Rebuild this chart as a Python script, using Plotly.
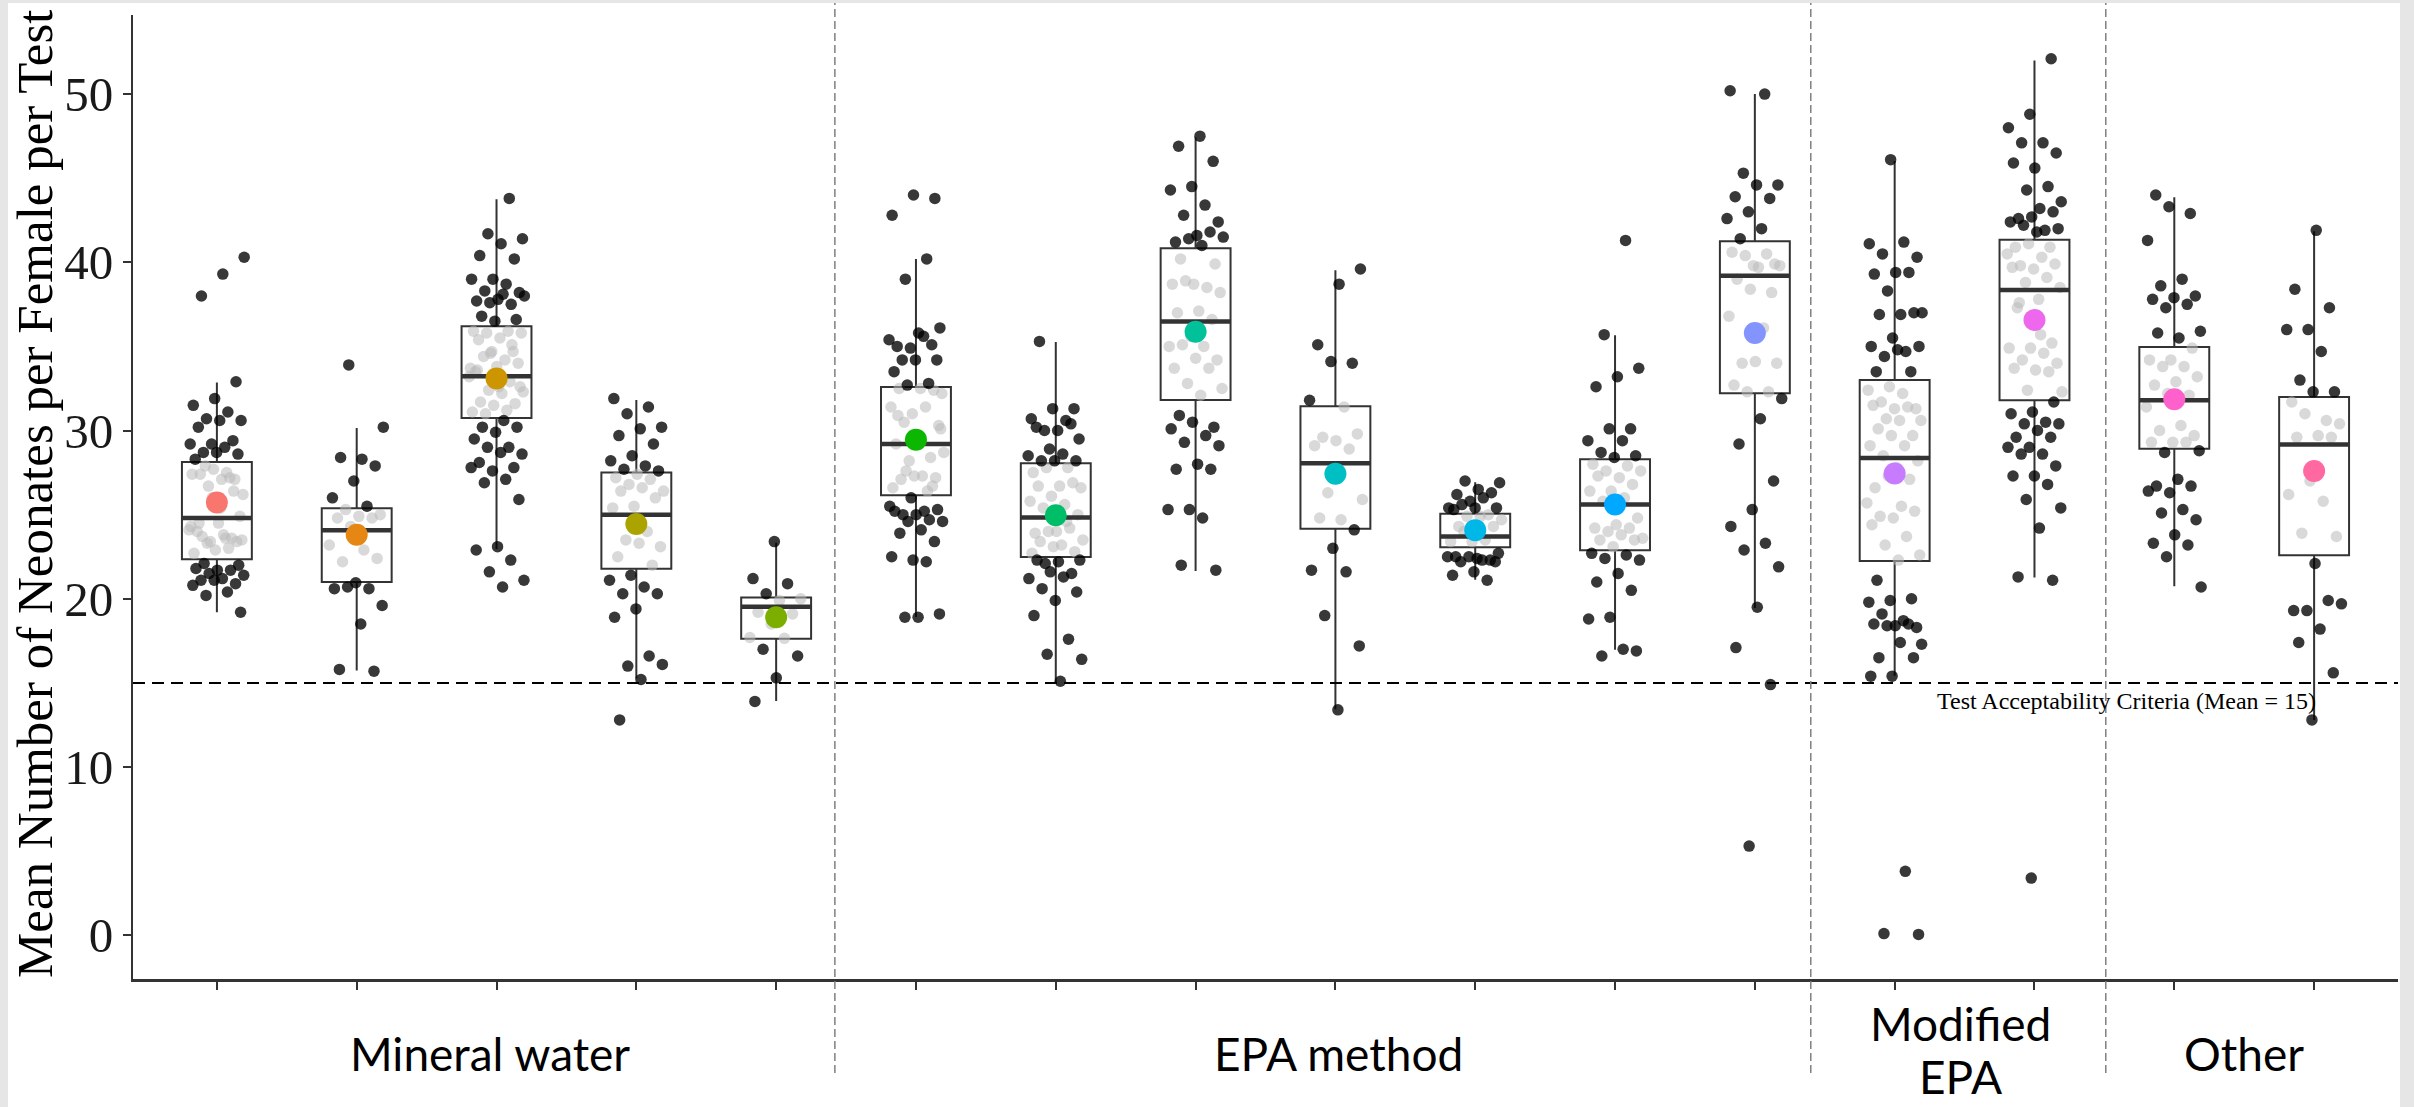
import plotly.graph_objects as go

# ---------------- data ----------------
positions = list(range(1, 17))

g01 = [40.3, 39.3, 38.0, 32.9, 31.9, 31.5, 31.1, 30.7, 30.6, 30.6, 30.2, 29.4, 29.2, 29.2, 29.0, 28.7, 28.6, 28.7, 28.3,
       27.2, 26.7, 26.2, 27.1, 27.4, 27.1, 27.7, 27.4, 27.5, 27.9, 24.9, 24.5, 24.0, 23.6, 23.4, 24.1, 23.8, 23.7, 23.4,
       22.9, 22.7, 23.0, 23.3, 23.5, 25.4, 24.5, 26.4, 26.0, 24.3, 23.6,
       22.1, 22.0, 21.7, 21.8, 21.7, 21.5, 21.4, 21.2, 21.1, 20.9, 21.1, 20.8, 20.4, 20.2, 19.2]
g02 = [33.9, 30.2, 28.3, 28.4, 27.9, 27.0, 26.0, 25.5, 25.3, 25.0, 24.9, 24.8, 24.8, 24.3, 23.2, 22.9, 22.2, 22.4,
       20.95, 20.6, 20.6, 20.7, 19.6, 18.5, 15.8, 15.7]
g03 = [43.8, 41.7, 41.4, 41.1, 40.4, 40.2, 39.0, 39.0, 38.7, 38.3, 38.2, 37.8, 37.7, 37.5, 37.6, 38.0, 38.1, 36.8, 36.6, 36.5,
       35.9, 35.9, 35.8, 35.8, 35.5, 35.4, 34.7, 34.7, 33.7, 34.2, 34.4, 34.0, 33.8, 33.5, 32.9, 32.4, 32.3, 32.2, 31.7,
       31.6, 31.5, 31.1, 31.2, 31.0, 32.6, 32.6, 33.6, 35.1, 34.6, 33.2,
       30.6, 30.2, 30.2, 29.9, 29.5, 29.0, 29.0, 28.6, 28.7, 28.1, 27.8, 27.6, 27.8, 27.1, 26.9, 25.9, 23.1, 22.9, 22.3,
       21.6, 21.1, 20.7]
g04 = [31.9, 31.4, 31.0, 30.2, 30.1, 29.7, 29.2, 28.5, 28.2, 27.9, 27.7, 27.6,
       27.4, 27.2, 27.1, 26.8, 26.4, 26.6, 26.4, 26.0, 25.5, 25.4, 24.0, 23.5, 23.1, 23.3, 22.5, 22.0,
       21.4, 21.1, 20.7, 20.3, 20.3, 19.4, 18.9, 16.6, 16.0, 16.1, 15.2, 12.8]
g05 = [23.4, 21.2, 20.9, 20.3, 20.0, 19.9, 19.2, 19.1, 18.5, 17.7, 17.65, 17.0, 16.6, 15.3, 13.9]
g06 = [43.8, 44.0, 42.8, 40.2, 39.0, 36.1, 35.8, 35.0, 35.1, 34.9, 35.4, 35.6, 34.2, 34.2, 34.2, 33.5, 32.8, 32.7,
       32.2, 32.5, 32.5, 32.4, 31.0, 31.4, 31.4, 30.5, 30.3, 29.6, 29.2, 28.4, 28.2, 28.7, 27.3, 27.1, 27.2, 27.3, 26.6,
       26.4, 27.6, 30.1, 29.6, 30.9, 26.7,
       26.0, 25.5, 25.2, 25.0, 25.3, 25.0, 25.2, 24.7, 24.6, 24.6, 24.1, 23.9, 23.4, 22.3, 22.5, 22.2, 18.9, 19.1, 18.9]
g07 = [35.3, 31.3, 31.3, 30.7, 30.6, 30.0, 29.5, 30.0, 30.2, 30.4, 28.9, 28.5, 28.6, 28.2, 28.2, 28.2,
       27.5, 27.8, 27.8, 26.6, 26.7, 26.7, 26.9, 26.1, 25.8, 25.6, 25.4, 25.0, 24.0, 23.9, 24.2, 24.0, 23.5, 23.2, 23.4,
       22.8, 23.1, 22.7, 24.6,
       22.1, 22.3, 22.2, 22.3, 21.5, 21.6, 21.2, 21.3, 20.6, 20.4, 19.9, 19.0, 17.6, 16.7, 16.4, 15.1]
g08 = [47.5, 46.9, 46.0, 44.5, 44.3, 43.4, 42.8, 42.4, 41.6, 41.2, 41.8, 41.4, 41.5, 41.0,
       40.2, 39.9, 38.7, 38.7, 38.5, 38.9, 38.2, 37.1, 37.0, 36.6, 35.6, 35.0, 35.0, 35.1, 34.2, 34.3, 33.7, 33.7, 32.8,
       32.5, 32.1,
       30.9, 30.2, 30.5, 30.1, 29.7, 29.3, 29.1, 28.0, 27.7, 27.7, 25.3, 25.3, 24.8, 22.0, 21.7]
g09 = [39.6, 38.7, 35.1, 34.0, 34.1, 31.8, 31.4, 29.6, 29.8, 29.4, 29.1, 28.9, 26.3, 25.9, 24.7, 24.8,
       24.1, 23.0, 21.7, 21.6, 19.0, 17.2, 13.4]
g10 = [27.0, 26.9, 26.5, 26.2, 26.3, 25.8, 25.4, 26.0, 25.6, 25.4, 25.4, 25.3,
       25.0, 24.9, 24.7, 24.9, 24.3, 24.3, 23.4, 23.4, 23.5, 24.0,
       22.7, 22.4, 22.5, 22.3, 22.5, 22.5, 22.3, 22.2, 22.2, 21.6, 21.4, 21.1]
g11 = [41.3, 35.7, 33.7, 33.2, 32.6, 30.1, 30.1, 29.4, 29.4, 28.7, 28.5, 28.4,
       28.0, 27.9, 27.6, 27.6, 27.2, 27.3, 26.8, 26.4, 26.4, 26.0, 25.8, 24.8, 24.4, 24.2, 24.2, 24.0, 23.6, 23.8, 23.5,
       23.5, 23.1,
       22.7, 22.6, 22.4, 22.3, 21.5, 21.0, 20.5, 18.9, 18.8, 17.0, 16.6, 16.9]
g12 = [50.2, 50.0, 45.3, 44.6, 44.6, 43.9, 43.8, 43.0, 42.6, 42.0, 41.4,
       39.9, 39.8, 40.6, 40.5, 40.4, 39.8, 39.7, 39.0, 38.2, 38.4, 36.8, 36.1, 34.0, 34.0, 34.1, 32.7, 32.3, 32.3,
       31.9, 30.7, 29.2, 27.0, 25.3, 24.3, 23.3, 22.9, 21.9, 19.5, 17.1, 14.9, 5.3]
g13 = [46.1, 41.1, 41.2, 40.5, 40.3, 39.4, 39.3, 39.4, 38.3, 37.0, 36.9, 36.9, 37.0, 35.5, 35.0, 34.7, 34.4, 35.0, 34.8,
       33.5, 33.5,
       32.6, 32.4, 32.2, 31.7, 31.3, 31.3, 31.5, 31.4, 30.7, 30.6, 30.6, 30.1, 29.7, 29.7, 29.1, 29.1, 28.5, 28.2, 27.8,
       26.6, 27.1, 27.3, 25.7, 25.5, 24.9, 25.2, 24.8, 24.4, 23.7, 23.2, 22.6, 22.3,
       21.1, 20.0, 19.9, 19.8, 18.7, 19.1, 18.3, 18.4, 18.5, 18.5, 18.4, 17.3, 17.4, 16.5, 16.5, 15.4, 15.4, 3.8, 0.1, 0.05]
g14 = [52.1, 48.8, 48.0, 47.1, 47.1, 46.5, 45.6, 45.9, 44.5, 44.3, 43.6, 43.2, 42.6, 43.0, 42.7, 42.4, 41.9, 42.2, 42.0,
       41.8,
       40.9, 40.9, 41.1, 40.5, 40.3, 39.8, 39.9, 39.6, 39.7, 39.1, 38.8, 38.5, 37.8, 37.3, 35.2, 34.9, 34.9, 34.6, 34.2,
       34.0, 33.6, 33.7, 33.5, 32.4, 32.3, 35.7, 37.6,
       31.7, 31.1, 31.0, 30.5, 30.4, 30.4, 30.0, 29.6, 29.6, 29.0, 29.0, 28.6, 28.6, 27.9, 27.3, 27.3, 26.8, 25.9, 25.4,
       24.2, 21.3, 21.1, 3.4]
g15 = [44.0, 42.9, 43.3, 41.3, 39.0, 38.6, 38.0, 37.9, 37.8, 37.5, 37.3, 35.9, 35.5, 35.8,
       34.9, 34.2, 34.2, 33.8, 33.8, 33.2, 32.9, 32.7, 32.1, 32.2, 31.4, 30.3, 30.0, 29.7, 29.3, 29.3, 29.3,
       28.7, 28.8, 27.1, 26.7, 26.7, 26.3, 26.4, 25.3, 25.1, 24.7, 23.8, 23.3, 23.2, 22.5, 20.7]
g16 = [41.9, 38.4, 37.3, 36.0, 36.0, 34.7, 33.0, 32.3, 32.3,
       31.7, 30.6, 31.0, 30.4, 29.7, 29.6, 29.6, 27.0, 26.2, 25.8, 23.9, 23.7,
       22.1, 19.3, 19.9, 19.3, 19.7, 18.2, 17.4, 15.6, 12.8]

q1 = [22.35, 21.0, 30.74, 21.78, 17.62, 26.15, 22.49, 31.82, 24.17, 23.06, 22.88, 32.22, 22.24, 31.8, 28.92, 22.59]
medians = [24.8, 24.08, 33.22, 25.0, 19.52, 29.2, 24.83, 36.48, 28.06, 23.7, 25.61, 39.2, 28.37, 38.35, 31.8, 29.17]
q3 = [28.13, 25.38, 36.2, 27.51, 20.08, 32.59, 28.06, 40.83, 31.45, 25.06, 28.29, 41.25, 33.0, 41.34, 34.97, 32.0]
lower_whisker = [19.2, 15.73, 22.96, 15.26, 13.93, 18.92, 15.06, 21.65, 13.43, 21.13, 16.97, 19.45, 15.43, 21.27, 20.74, 12.8]
upper_whisker = [32.85, 30.15, 43.75, 31.82, 23.33, 40.19, 35.26, 47.42, 39.53, 26.93, 35.67, 50.0, 46.02, 52.0, 43.86, 41.84]
means = [25.72, 23.81, 33.1, 24.44, 18.9, 29.46, 24.96, 35.87, 27.43, 24.08, 25.6, 35.8, 27.45, 36.57, 31.86, 27.6]
mean_colors = ["#F8766D", "#E68613", "#CD9600", "#ABA300", "#7CAE00", "#0CB702", "#00BE67", "#00C19A",
               "#00BFC4", "#00B8E7", "#00A9FF", "#8494FF", "#C77CFF", "#ED68ED", "#FF61CC", "#FF68A1"]

# section labels: (text, centre position, vertical centre in px)
section_labels = ["Mineral water", "EPA method", "Modified", "EPA", "Other"]
section_centers = [2.95, 9.02, 13.47, 13.47, 15.5]
section_rows = [1053, 1053, 1023, 1076, 1053]
separators = [5.42, 12.40, 14.51]
criterion = 15
criterion_label = "Test Acceptability Criteria (Mean = 15)"
y_title = "Mean Number of Neonates per Female per Test"
y_ticks = [0, 10, 20, 30, 40, 50]

groups = [g01, g02, g03, g04, g05, g06, g07, g08, g09, g10, g11, g12, g13, g14, g15, g16]

# ---------------- figure ----------------
W, H = 2414, 1107
ML, MR, MT, MB = 133, 16, 15, 128
PW, PH = W - ML - MR, H - MT - MB


def px_x(px):
    return (px - ML) / PW


def px_y(py):
    return (H - MB - py) / PH


fig = go.Figure()

fig.add_trace(go.Box(
    x=positions, q1=q1, median=medians, q3=q3,
    lowerfence=lower_whisker, upperfence=upper_whisker,
    width=0.5, whiskerwidth=0, fillcolor="white",
    line=dict(color="#333333", width=2), boxpoints=False,
    hoverinfo="skip", showlegend=False))

gx, gy, bx, by = [], [], [], []
for p, vals, lo, hi in zip(positions, groups, q1, q3):
    for k, v in enumerate(vals):
        off = (((k + 1) * 0.6180339887 + p * 0.37) % 1.0 - 0.5) * 0.4
        if lo <= v <= hi:
            gx.append(p + off)
            gy.append(v)
        else:
            bx.append(p + off)
            by.append(v)

fig.add_trace(go.Scatter(x=gx, y=gy, mode="markers", hoverinfo="skip", showlegend=False,
                         marker=dict(size=11.5, color="rgba(185,185,185,0.55)", line=dict(width=0))))
fig.add_trace(go.Scatter(x=bx, y=by, mode="markers", hoverinfo="skip", showlegend=False,
                         marker=dict(size=11.5, color="rgba(0,0,0,0.78)", line=dict(width=0))))

mx, my = [], []
for p, m in zip(positions, medians):
    mx += [p - 0.25, p + 0.25, None]
    my += [m, m, None]
fig.add_trace(go.Scatter(x=mx, y=my, mode="lines", hoverinfo="skip", showlegend=False,
                         line=dict(color="#333333", width=4.5)))

fig.add_trace(go.Scatter(x=positions, y=means, mode="markers", hoverinfo="skip", showlegend=False,
                         marker=dict(size=22, color=mean_colors, line=dict(width=0))))

shapes = [
    dict(type="rect", xref="paper", yref="paper", x0=px_x(8), x1=px_x(2400), y0=px_y(1120), y1=px_y(3),
         fillcolor="white", line=dict(width=0), layer="below"),
    dict(type="line", xref="paper", yref="y", x0=0, x1=1, y0=criterion, y1=criterion,
         line=dict(color="black", width=2, dash="12px,7px")),
]
for s in separators:
    shapes.append(dict(type="line", xref="x", yref="paper", x0=s, x1=s, y0=px_y(1073), y1=px_y(3),
                       line=dict(color="#808080", width=1.5, dash="8px,4px")))

annotations = [
    dict(x=px_x(35), y=px_y(494), xref="paper", yref="paper", text=y_title, textangle=-90,
         showarrow=False, xanchor="center", yanchor="middle",
         font=dict(family="Liberation Serif", size=51, color="black")),
    dict(x=14.66, y=13.95, xref="x", yref="y", text=criterion_label, showarrow=False,
         xanchor="center", yanchor="middle",
         font=dict(family="Liberation Serif", size=24, color="black")),
]
for lab, c, row in zip(section_labels, section_centers, section_rows):
    annotations.append(dict(x=c, y=px_y(row), xref="x", yref="paper", text=lab, showarrow=False,
                            xanchor="center", yanchor="middle",
                            font=dict(family="Lato", size=46, color="black")))

fig.update_layout(
    width=W, height=H,
    margin=dict(l=ML, r=MR, t=MT, b=MB, pad=0),
    paper_bgcolor="#e6e6e6", plot_bgcolor="white",
    showlegend=False,
    shapes=shapes, annotations=annotations,
    xaxis=dict(range=[0.4, 16.6], showgrid=False, zeroline=False, showline=True,
               linecolor="#333333", linewidth=2.5, ticks="outside", ticklen=8, tickwidth=1.5,
               tickcolor="#333333", tickvals=positions, showticklabels=False),
    yaxis=dict(range=[-2.6, 54.7], showgrid=False, zeroline=False, showline=True,
               linecolor="#333333", linewidth=2, ticks="outside", ticklen=8, tickwidth=1.5,
               tickcolor="#333333", tickvals=y_ticks,
               tickfont=dict(family="Liberation Serif", size=49, color="#1a1a1a")),
)

fig.write_html("out.html")
